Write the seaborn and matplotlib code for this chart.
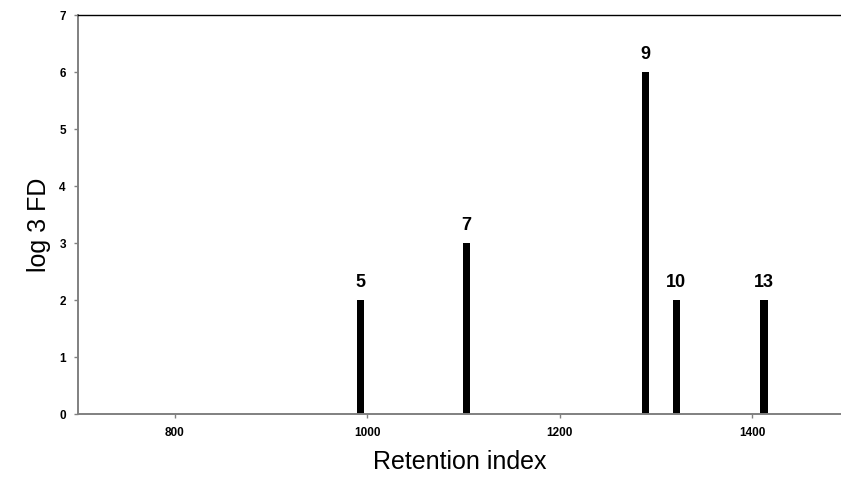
import matplotlib
matplotlib.use("Agg")
import matplotlib.pyplot as plt
import seaborn as sns
import pandas as pd

# Data
retention_index = [993, 1103, 1289, 1321, 1412]
log3_fd = [2, 3, 6, 2, 2]
peak_labels = ["5", "7", "9", "10", "13"]
x_ticks = [800, 1000, 1200, 1400]
y_ticks = [0, 1, 2, 3, 4, 5, 6, 7]

sns.set_theme(style="white")
plt.rcParams['font.family'] = ['Liberation Sans', 'DejaVu Sans']

W, H = 841, 479
fig = plt.figure(figsize=(W / 100, H / 100), dpi=100)
left_px, right_px, top_px, bottom_px = 78.3, 841, 15, 414.3
ax = fig.add_axes([left_px / W, 1 - bottom_px / H,
                   (right_px - left_px) / W, (bottom_px - top_px) / H])

df = pd.DataFrame({"ri": retention_index, "fd": log3_fd})
sns.barplot(data=df, x="ri", y="fd", native_scale=True, width=0.24,
            color="black", saturation=1, edgecolor="none", ax=ax)

for x, y, lab in zip(retention_index, log3_fd, peak_labels):
    ax.annotate(lab, (x, y), xytext=(0, 6.5), textcoords="offset points",
                ha="center", va="bottom", fontsize=13, fontweight="bold",
                color="black")

ax.set_xlim(700, 1492)
ax.set_ylim(0, 7)
ax.set_xticks(x_ticks)
ax.set_xticklabels([str(t) for t in x_ticks], fontweight="bold", fontsize=8.5)
ax.set_yticks(y_ticks)
ax.set_yticklabels([str(t) for t in y_ticks], fontweight="bold", fontsize=8.5)
ax.tick_params(axis="both", which="both", bottom=True, left=True, direction="out",
               length=3, width=1, color="#808080", labelcolor="black", pad=6)

ax.spines["right"].set_visible(False)
ax.spines["top"].set_color("black")
ax.spines["top"].set_linewidth(1.0)
for s in ("left", "bottom"):
    ax.spines[s].set_color("#808080")
    ax.spines[s].set_linewidth(1.4)

ax.set_xlabel("Retention index", fontsize=18, labelpad=8, color="black")
ax.set_ylabel("log 3 FD", fontsize=18, color="black")
ax.yaxis.set_label_coords(-0.036, 0.474)
ax.grid(False)

fig.savefig("out.png", dpi=100)
